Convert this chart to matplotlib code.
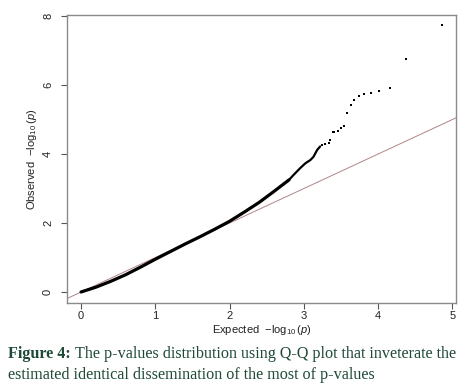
import matplotlib
matplotlib.use("Agg")
import matplotlib.pyplot as plt

# Dense part of the Q-Q curve (expected, observed)
curve_expected = [0.0, 0.2, 0.4, 0.6, 0.8, 1.0, 1.2, 1.4, 1.6, 1.8, 2.0, 2.2, 2.4, 2.6,
                  2.8, 2.86, 2.95, 3.02, 3.09, 3.13, 3.18, 3.22]
curve_observed = [0.0, 0.14, 0.31, 0.50, 0.72, 0.95, 1.17, 1.39, 1.60, 1.82, 2.05, 2.32,
                  2.60, 2.92, 3.25, 3.39, 3.59, 3.73, 3.83, 3.92, 4.12, 4.22]

# Sparse tail points
tail_expected = [3.24, 3.29, 3.34, 3.356, 3.39, 3.41, 3.455, 3.50, 3.535, 3.585, 3.63,
                 3.68, 3.74, 3.81, 3.908, 4.016, 4.155, 4.38, 4.856]
tail_observed = [4.25, 4.29, 4.32, 4.41, 4.64, 4.65, 4.68, 4.77, 4.82, 5.19, 5.42,
                 5.57, 5.67, 5.75, 5.76, 5.83, 5.91, 6.75, 7.74]

x_ticks = [0, 1, 2, 3, 4, 5]
y_ticks = [0, 2, 4, 6, 8]

plt.rcParams['font.family'] = ['Liberation Sans', 'DejaVu Sans']
plt.rcParams['mathtext.fontset'] = 'custom'
plt.rcParams['mathtext.rm'] = 'Liberation Sans'
plt.rcParams['mathtext.it'] = 'Liberation Sans:italic'

fig = plt.figure(figsize=(4.75, 3.87), dpi=100)
ax = fig.add_axes([0.141, 0.217, 0.819, 0.744])

ax.set_xlim(-0.19, 5.05)
ax.set_ylim(-0.32, 8.03)

# y = x reference line
ax.axline((0, 0), slope=1, color='#b08585', lw=0.7, zorder=1)

n_thick = 14
ax.plot(curve_expected[:n_thick + 1], curve_observed[:n_thick + 1], color='black',
        lw=2.3, solid_capstyle='round', zorder=2)
ax.plot(curve_expected[n_thick:], curve_observed[n_thick:], color='black',
        lw=1.6, solid_capstyle='round', zorder=2)
ax.scatter(tail_expected, tail_observed, s=4, marker='s', color='black',
           linewidths=0, zorder=3)

for s in ax.spines.values():
    s.set_color('#8a8a8a')
    s.set_linewidth(1.0)

ax.set_xticks(x_ticks)
ax.set_yticks(y_ticks)
ax.tick_params(axis='both', direction='out', length=4, width=0.8, color='#555555',
               labelsize=8, labelcolor='#222222')
ax.tick_params(axis='x', pad=2)
ax.tick_params(axis='y', pad=6)
for lab in ax.get_yticklabels():
    lab.set_rotation(90)
    lab.set_va('center')

ax.set_xlabel(r'Expected  $-\log_{10}(p)$', fontsize=8, color='#222222', labelpad=1)
ax.set_ylabel(r'Observed  $-\log_{10}(p)$', fontsize=8, color='#222222', labelpad=3)

cap_color = '#1e4a36'
cap_size = 11.6
y1 = 1 - 358 / 387
y2 = 1 - 379 / 387
t0 = fig.text(0.017, y1, 'Figure 4:', fontsize=cap_size, fontweight='bold',
              family=['Liberation Serif'], color=cap_color, va='baseline')
fig.canvas.draw()
bb = t0.get_window_extent()
x_next = (bb.x1 + 4) / fig.bbox.width
fig.text(x_next, y1,
         'The p-values distribution using Q-Q plot that inveterate the',
         fontsize=cap_size, family=['Liberation Serif'], color=cap_color, va='baseline')
fig.text(0.017, y2,
         'estimated identical dissemination of the most of p-values',
         fontsize=cap_size, family=['Liberation Serif'], color=cap_color, va='baseline')

fig.savefig('out.png', dpi=100)
